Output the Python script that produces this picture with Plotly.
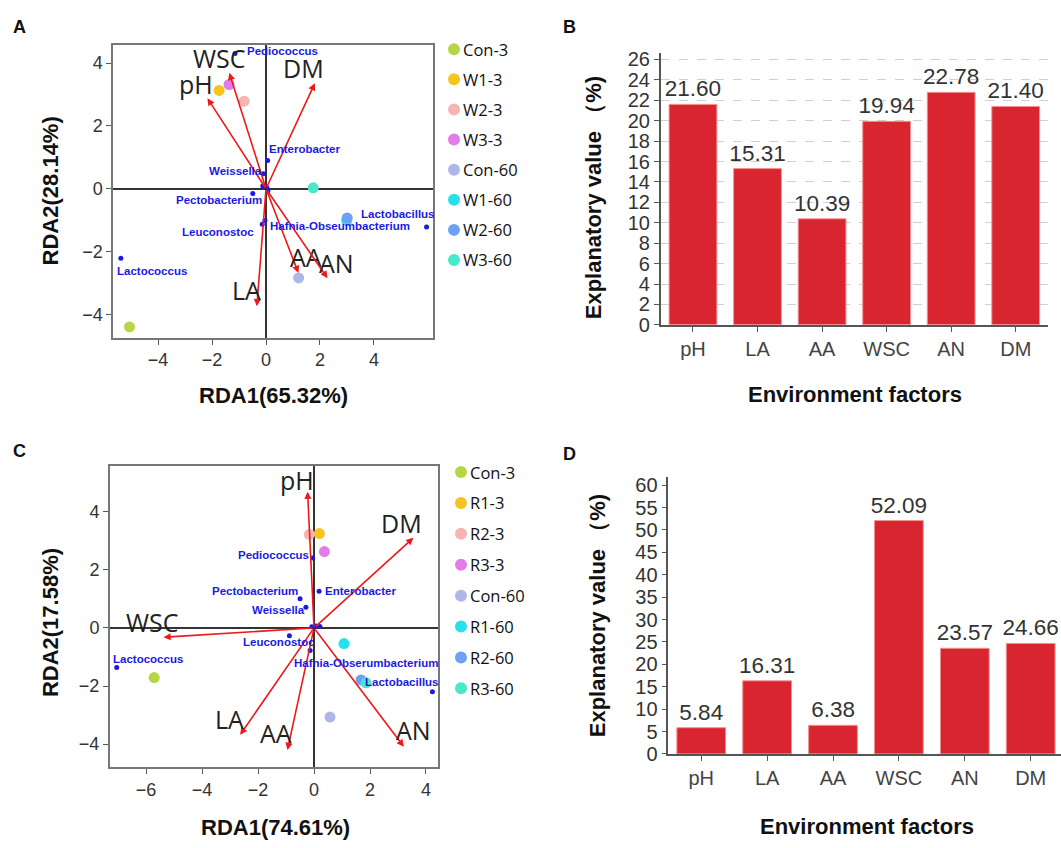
import plotly.graph_objects as go

# ---------------- Data ----------------
# Panel A (RDA, W treatments)
samples_A = ["Con-3", "W1-3", "W2-3", "W3-3", "Con-60", "W1-60", "W2-60", "W3-60"]
samples_A_x = [-5.06, -1.74, -0.81, -1.37, 1.21, 2.99, 3.01, 1.75]
samples_A_y = [-4.40, 3.13, 2.79, 3.32, -2.84, -1.01, -0.93, 0.03]

species_A = ["Pediococcus", "Enterobacter", "Weissella", "Pectobacterium", "Leuconostoc",
             "Hafnia-Obseumbacterium", "Lactobacillus", "Lactococcus", "", "", ""]
species_A_x = [-1.15, 0.06, -0.10, -0.49, -0.14, -0.04, 5.95, -5.38, -0.12, 0.03, 0.07]
species_A_y = [4.31, 0.90, 0.48, -0.15, -1.13, -1.01, -1.22, -2.21, 0.09, 0.04, -0.07]

factors_A = ["pH", "WSC", "DM", "LA", "AA", "AN"]
factors_A_x = [-2.17, -1.36, 1.81, -0.34, 1.20, 2.28]
factors_A_y = [2.88, 3.69, 3.36, -3.74, -2.68, -2.85]

# Panel C (RDA, R treatments)
samples_C = ["Con-3", "R1-3", "R2-3", "R3-3", "Con-60", "R1-60", "R2-60", "R3-60"]
samples_C_x = [-5.71, 0.19, -0.17, 0.37, 0.57, 1.07, 1.68, 1.86]
samples_C_y = [-1.71, 3.25, 3.22, 2.63, -3.07, -0.54, -1.79, -1.89]

species_C = ["Pediococcus", "Enterobacter", "Pectobacterium", "Weissella", "Leuconostoc",
             "Hafnia-Obserumbacterium", "Lactobacillus", "Lactococcus", "", "", ""]
species_C_x = [-0.05, 0.18, -0.50, -0.29, -0.88, -0.14, 4.23, -7.05, 0.07, 0.21, -0.08]
species_C_y = [2.41, 1.26, 1.00, 0.71, -0.27, -0.78, -2.20, -1.36, 0.07, 0.05, 0.04]

factors_C = ["pH", "DM", "WSC", "LA", "AA", "AN"]
factors_C_x = [-0.23, 3.55, -5.38, -2.64, -0.95, 3.21]
factors_C_y = [4.69, 3.10, -0.32, -3.68, -4.20, -4.09]

# Panels B and D (explanatory value, %)
bar_factors = ["pH", "LA", "AA", "WSC", "AN", "DM"]
values_B = [21.60, 15.31, 10.39, 19.94, 22.78, 21.40]
values_D = [5.84, 16.31, 6.38, 52.09, 23.57, 24.66]

# tick values
rda_ticks_A_x = [-4, -2, 0, 2, 4]
rda_ticks_A_y = [-4, -2, 0, 2, 4]
rda_ticks_C_x = [-6, -4, -2, 0, 2, 4]
rda_ticks_C_y = [-4, -2, 0, 2, 4]

# ---------------- Styles ----------------
sample_colors = ["#b7d646", "#f6c51c", "#f8b4b4", "#e37ce8", "#adb8e8", "#26e0ec", "#6ea0f6", "#48e8c8"]
species_color = "#1a1ae6"
arrow_color = "#f01818"
bar_color = "#d92530"

# label pixel offsets (dx, dy) relative to the marked point
sp_off_A = [(48, 2), (37, 11), (-28, 3), (-34, -7), (-44, -8), (75, -6), (-29, 13), (31, -13),
            (0, 0), (0, 0), (0, 0)]
fa_off_A = [(-11, 14), (-10, 15), (-11, 15), (-10, 16), (8, 16), (9, 15)]
sp_off_C = [(-39, 3), (41, 0), (-45, 8), (-27, -3), (-10, -6), (56, -12), (-30, 10), (31, 8),
            (0, 0), (0, 0), (0, 0)]
fa_off_C = [(-11, 12), (-12, 15), (-11, 15), (-11, 16), (-11, 17), (10, 17)]

W, H = 1061, 848
def fx(p):
    return p / W
def fy(p):
    return 1 - p / H

fig = go.Figure()
annotations = []
shapes = []

def add_rda(xa, ya, samples, sx, sy, species, spx, spy, factors, fxv, fyv, sp_off, fa_off):
    xref = xa
    yref = ya
    # arrows
    for name, tx, ty, (dx, dy) in zip(factors, fxv, fyv, fa_off):
        annotations.append(dict(x=tx, y=ty, ax=0, ay=0, xref=xref, yref=yref,
                                axref=xref, ayref=yref, showarrow=True, text="",
                                arrowhead=2, arrowsize=0.9, arrowwidth=1.6,
                                arrowcolor=arrow_color))
        annotations.append(dict(x=tx, y=ty, xref=xref, yref=yref, text=name, showarrow=False,
                                xshift=dx, yshift=dy,
                                font=dict(family="Open Sans", size=25, color="#222")))
    # species
    fig.add_trace(go.Scatter(x=spx, y=spy, mode="markers", xaxis=xa, yaxis=ya,
                             marker=dict(size=5, color=species_color), hoverinfo="skip"))
    for name, px_, py_, (dx, dy) in zip(species, spx, spy, sp_off):
        if name:
            annotations.append(dict(x=px_, y=py_, xref=xref, yref=yref, text=name,
                                    showarrow=False, xshift=dx, yshift=dy,
                                    font=dict(family="Liberation Sans", size=11.5,
                                              color=species_color, weight="bold")))
    # samples
    for name, x, y, c in zip(samples, sx, sy, sample_colors):
        fig.add_trace(go.Scatter(x=[x], y=[y], mode="markers", name=name, xaxis=xa, yaxis=ya,
                                 marker=dict(size=11, color=c)))

add_rda("x", "y", samples_A, samples_A_x, samples_A_y, species_A, species_A_x, species_A_y,
        factors_A, factors_A_x, factors_A_y, sp_off_A, fa_off_A)
add_rda("x3", "y3", samples_C, samples_C_x, samples_C_y, species_C, species_C_x, species_C_y,
        factors_C, factors_C_x, factors_C_y, sp_off_C, fa_off_C)

for xa, ya, vals in (("x2", "y2", values_B), ("x4", "y4", values_D)):
    fig.add_trace(go.Bar(x=bar_factors, y=vals, xaxis=xa, yaxis=ya, width=0.74,
                         marker=dict(color=bar_color, line=dict(color="#f39090", width=1)),
                         texttemplate="%{y:.2f}", textposition="outside",
                         textfont=dict(family="Liberation Sans", size=22.5, color="#333"),
                         constraintext="none", cliponaxis=False))

# legends (drawn manually)
def add_legend(names, cx, tx, y0, step):
    for i, (n, c) in enumerate(zip(names, sample_colors)):
        yy = y0 + i * step
        shapes.append(dict(type="circle", xref="paper", yref="paper", xsizemode="pixel",
                           ysizemode="pixel", xanchor=fx(cx), yanchor=fy(yy),
                           x0=-6, x1=6, y0=-6, y1=6, fillcolor=c, line=dict(width=0)))
        annotations.append(dict(x=fx(tx), y=fy(yy), xref="paper", yref="paper", text=n,
                                showarrow=False, xanchor="left", yanchor="middle",
                                font=dict(family="Open Sans", size=16.5, color="#111")))

add_legend(samples_A, 454, 461, 45, 30.7)
add_legend(samples_C, 461, 468, 476, 31.5)

# titles & panel letters
def txt(x, y, t, size, angle=0, bold=True, family="Liberation Sans", color="#111"):
    annotations.append(dict(x=fx(x), y=fy(y), xref="paper", yref="paper", text=t,
                            showarrow=False, textangle=angle, xanchor="center", yanchor="middle",
                            font=dict(family=family, size=size, color=color,
                                      weight="bold" if bold else "normal")))

txt(273, 398, "RDA1(65.32%)", 22)
txt(50, 190, "RDA2(28.14%)", 22, angle=-90)
txt(275, 838, "RDA1(74.61%)", 22)
txt(50, 630, "RDA2(17.58%)", 22, angle=-90)
txt(855, 397, "Environment factors", 22)
txt(867, 837, "Environment factors", 22)
txt(593, 197, "Explanatory value （%)", 22, angle=-90)
txt(597, 623, "Explanatory value （%)", 22, angle=-90)
txt(19, 22, "A", 18)
txt(569, 22, "B", 18)
txt(19, 455, "C", 18)
txt(569, 458, "D", 18)

rda_axis = dict(showline=True, mirror=True, linecolor="#777", linewidth=2, ticks="outside",
                ticklen=5, tickcolor="#555", tickfont=dict(family="Liberation Sans", size=18, color="#333"),
                zeroline=True, zerolinecolor="#333", zerolinewidth=1.5, showgrid=False)
bar_x = dict(type="category", showline=True, linecolor="#555", linewidth=1.5, ticks="outside",
             ticklen=5, tickcolor="#555", tickfont=dict(family="Liberation Sans", size=20, color="#444"),
             showgrid=False, zeroline=False)
bar_y = dict(showline=True, linecolor="#555", linewidth=1.5, ticks="outside", ticklen=5,
             tickcolor="#555", tickfont=dict(family="Liberation Sans", size=20, color="#333"),
             zeroline=False)

fig.update_layout(
    width=W, height=H, margin=dict(l=0, r=0, t=0, b=0),
    paper_bgcolor="white", plot_bgcolor="white", showlegend=False,
    xaxis=dict(rda_axis, domain=[fx(113.3), fx(433.3)], range=[-5.66, 6.20], anchor="y",
               tickvals=rda_ticks_A_x),
    yaxis=dict(rda_axis, domain=[fy(339), fy(41)], range=[-4.74, 4.57], anchor="x",
               tickvals=rda_ticks_A_y),
    xaxis3=dict(rda_axis, domain=[fx(110), fx(438.3)], range=[-7.29, 4.44], anchor="y3",
                tickvals=rda_ticks_C_x),
    yaxis3=dict(rda_axis, domain=[fy(776.7), fy(470)], range=[-4.79, 5.57], anchor="x3",
                tickvals=rda_ticks_C_y),
    xaxis2=dict(bar_x, domain=[fx(660.7), fx(1048)], range=[-0.5, 5.5], anchor="y2"),
    yaxis2=dict(bar_y, domain=[fy(326), fy(49.3)], range=[0, 26.6], dtick=2, anchor="x2",
                showgrid=True, gridcolor="#d0d0d0", griddash="dash", gridwidth=1),
    xaxis4=dict(bar_x, domain=[fx(668.3), 1.0], range=[-0.5, 5.46], anchor="y4"),
    yaxis4=dict(bar_y, domain=[fy(763.3), fy(480.7)], range=[0, 61.9], dtick=5, anchor="x4",
                showgrid=False),
    annotations=annotations, shapes=shapes,
)

fig.write_html("out.html", config={"displayModeBar": False},
               post_script="document.documentElement.style.margin='0';"
                           "document.body.style.margin='0';"
                           "document.body.style.overflow='hidden';"
                           "document.documentElement.style.overflow='hidden';"
                           "var d=document.getElementById('{plot_id}');"
                           "d.style.position='fixed';d.style.top='0px';d.style.left='0px';")
